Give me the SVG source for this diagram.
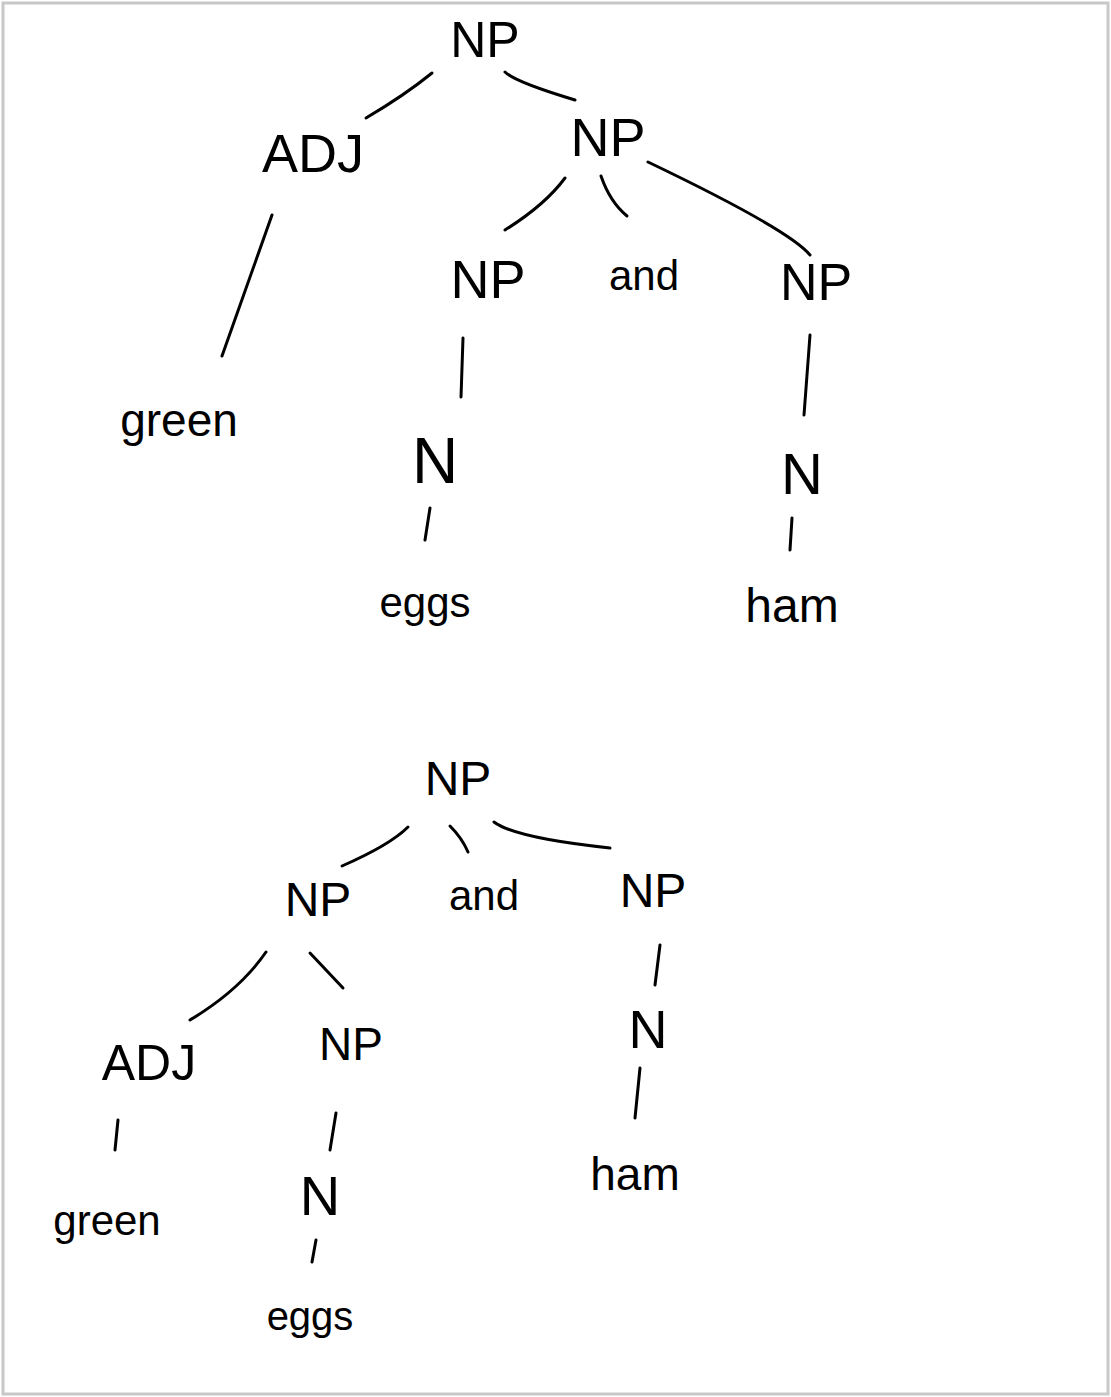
<svg xmlns="http://www.w3.org/2000/svg" width="1111" height="1397" viewBox="0 0 1111 1397">
<style>
.t{font-family:"Liberation Sans","DejaVu Sans",sans-serif;fill:#000;text-anchor:middle}
.c{fill:none;stroke:#000;stroke-width:3;stroke-linecap:round;stroke-linejoin:round}
</style>
<rect x="0" y="0" width="1111" height="1397" fill="#fff"/>
<rect x="3" y="3" width="1105" height="1391" fill="none" stroke="#c8c8c8" stroke-width="3"/>
<g id="connectors">
<path class="c" d="M432,73 Q405,95 366,118"/>
<path class="c" d="M505,72 Q515,82 575,100"/>
<path class="c" d="M272,215 L222,356"/>
<path class="c" d="M565,178 Q545,205 505,230"/>
<path class="c" d="M601,176 Q610,202 627,216"/>
<path class="c" d="M648,162 Q790,230 810,255"/>
<path class="c" d="M463,338 L461,397"/>
<path class="c" d="M430,508 L425,540"/>
<path class="c" d="M810,335 L804,415"/>
<path class="c" d="M792,518 L790,550"/>
<path class="c" d="M408,827 Q390,845 342,866"/>
<path class="c" d="M450,826 Q462,838 468,852"/>
<path class="c" d="M494,822 Q515,838 610,848"/>
<path class="c" d="M266,952 Q240,990 190,1020"/>
<path class="c" d="M310,953 L343,988"/>
<path class="c" d="M118,1120 L115,1150"/>
<path class="c" d="M336,1113 L330,1150"/>
<path class="c" d="M316,1240 L312,1262"/>
<path class="c" d="M660,945 L655,985"/>
<path class="c" d="M640,1068 L635,1118"/>
</g>
<g id="t1-np-root"><text class="t" x="485" y="57" font-size="50">NP</text></g>
<g id="t1-adj"><text class="t" x="313" y="172" font-size="54">ADJ</text></g>
<g id="t1-np"><text class="t" x="608" y="156" font-size="54">NP</text></g>
<g id="t1-green"><text class="t" x="179" y="436" font-size="46">green</text></g>
<g id="t1-np-left"><text class="t" x="488" y="298" font-size="54">NP</text></g>
<g id="t1-and"><text class="t" x="644" y="290" font-size="42">and</text></g>
<g id="t1-np-right"><text class="t" x="816" y="300" font-size="52">NP</text></g>
<g id="t1-n-left"><text class="t" x="435" y="483" font-size="64">N</text></g>
<g id="t1-n-right"><text class="t" x="802" y="494" font-size="58">N</text></g>
<g id="t1-eggs"><text class="t" x="425" y="617" font-size="42">eggs</text></g>
<g id="t1-ham"><text class="t" x="792" y="622" font-size="48">ham</text></g>
<g id="t2-np-root"><text class="t" x="458" y="795" font-size="48">NP</text></g>
<g id="t2-np-left"><text class="t" x="318" y="916" font-size="48">NP</text></g>
<g id="t2-and"><text class="t" x="484" y="910" font-size="42">and</text></g>
<g id="t2-np-right"><text class="t" x="653" y="907" font-size="48">NP</text></g>
<g id="t2-adj"><text class="t" x="149" y="1080" font-size="50">ADJ</text></g>
<g id="t2-np"><text class="t" x="351" y="1060" font-size="46">NP</text></g>
<g id="t2-n-right"><text class="t" x="648" y="1048" font-size="54">N</text></g>
<g id="t2-ham"><text class="t" x="635" y="1190" font-size="46">ham</text></g>
<g id="t2-green"><text class="t" x="107" y="1235" font-size="42">green</text></g>
<g id="t2-n"><text class="t" x="320" y="1215" font-size="56">N</text></g>
<g id="t2-eggs"><text class="t" x="310" y="1330" font-size="40">eggs</text></g>
</svg>
